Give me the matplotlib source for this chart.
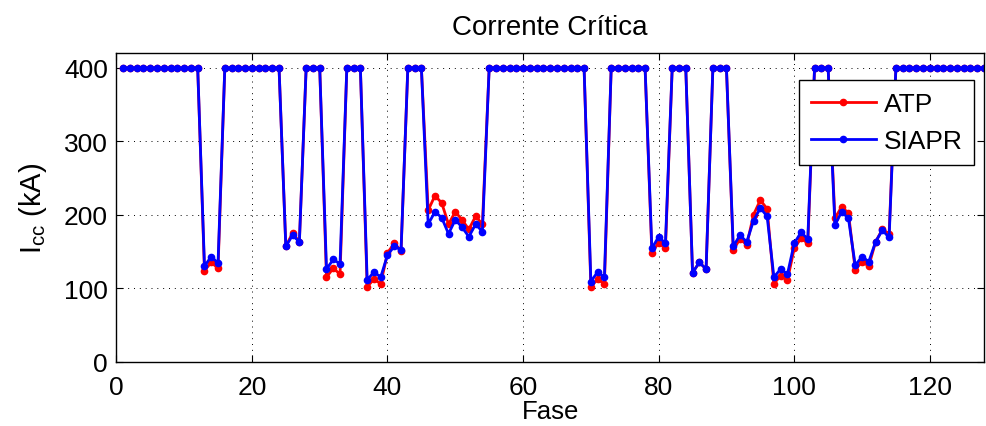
import matplotlib
matplotlib.use("Agg")
import matplotlib.pyplot as plt
import numpy as np

plt.rcParams['font.family'] = ['Liberation Sans', 'DejaVu Sans']
plt.rcParams['mathtext.fontset'] = 'custom'
plt.rcParams['mathtext.rm'] = 'Liberation Sans'

#-----Data-----#
fase = np.arange(1, 129)

atp = [400, 400, 400, 400, 400, 400, 400, 400, 400, 400, 400, 400,
       124, 135, 127,
       400, 400, 400, 400, 400, 400, 400, 400, 400,
       157, 175, 163,
       400, 400, 400,
       115, 127, 119,
       400, 400, 400,
       102, 112, 106, 148, 161, 151,
       400, 400, 400,
       206, 226, 216, 187, 204, 193, 180, 198, 187,
       400, 400, 400, 400, 400, 400, 400, 400, 400, 400, 400, 400, 400, 400, 400,
       102, 112, 106,
       400, 400, 400, 400, 400, 400,
       148, 162, 154,
       400, 400, 400,
       121, 135, 126,
       400, 400, 400,
       152, 167, 159, 200, 220, 208, 106, 117, 111, 154, 168, 161,
       400, 400, 400,
       195, 211, 202, 125, 136, 130, 163, 180, 174,
       400, 400, 400, 400, 400, 400, 400, 400, 400, 400, 400, 400, 400, 400]

siapr = [400, 400, 400, 400, 400, 400, 400, 400, 400, 400, 400, 400,
         130, 143, 134,
         400, 400, 400, 400, 400, 400, 400, 400, 400,
         157, 172, 163,
         400, 400, 400,
         126, 139, 133,
         400, 400, 400,
         111, 122, 115, 145, 157, 152,
         400, 400, 400,
         187, 204, 196, 174, 193, 183, 170, 187, 177,
         400, 400, 400, 400, 400, 400, 400, 400, 400, 400, 400, 400, 400, 400, 400,
         109, 122, 115,
         400, 400, 400, 400, 400, 400,
         154, 170, 161,
         400, 400, 400,
         121, 135, 126,
         400, 400, 400,
         157, 172, 163, 192, 209, 198, 115, 126, 119, 161, 176, 167,
         400, 400, 400,
         186, 204, 195, 131, 143, 136, 163, 179, 169,
         400, 400, 400, 400, 400, 400, 400, 400, 400, 400, 400, 400, 400, 400]

#-----Plot-----#
fig = plt.figure(figsize=(9.86, 4.27), dpi=100)
ax = fig.add_axes([0.118, 0.151, 0.880, 0.722])

ax.plot(fase, atp, color='red', lw=2, marker='o', ms=4.5, label='ATP')
ax.plot(fase, siapr, color='blue', lw=2, marker='o', ms=4.5, label='SIAPR')

ax.set_xlim(0, 128)
ax.set_ylim(0, 420)
ax.set_xticks([0, 20, 40, 60, 80, 100, 120])
ax.set_yticks([0, 100, 200, 300, 400])
ax.tick_params(direction='in', top=True, right=True, length=5, width=0.8,
               labelsize=19)
ax.tick_params(axis='x', pad=10)
ax.tick_params(axis='y', pad=6)
ax.grid(True, color='black', linestyle=(0, (1, 5)), linewidth=0.7)
for s in ax.spines.values():
    s.set_linewidth(1.0)

ax.set_title('Corrente Crítica', fontsize=20, pad=14)
ax.set_xlabel('Fase', fontsize=18.5, labelpad=0)
ax.set_ylabel(r'I$_{\rm cc}$ (kA)', fontsize=21, labelpad=11)

leg = ax.legend(loc='upper right', bbox_to_anchor=(0.989, 0.912),
                borderaxespad=0, fontsize=19, fancybox=False,
                framealpha=1, edgecolor='black', handlelength=2.45,
                borderpad=0.45, labelspacing=0.5, handletextpad=0.3)
leg.get_frame().set_linewidth(1.0)

fig.savefig('out.png', dpi=100)
